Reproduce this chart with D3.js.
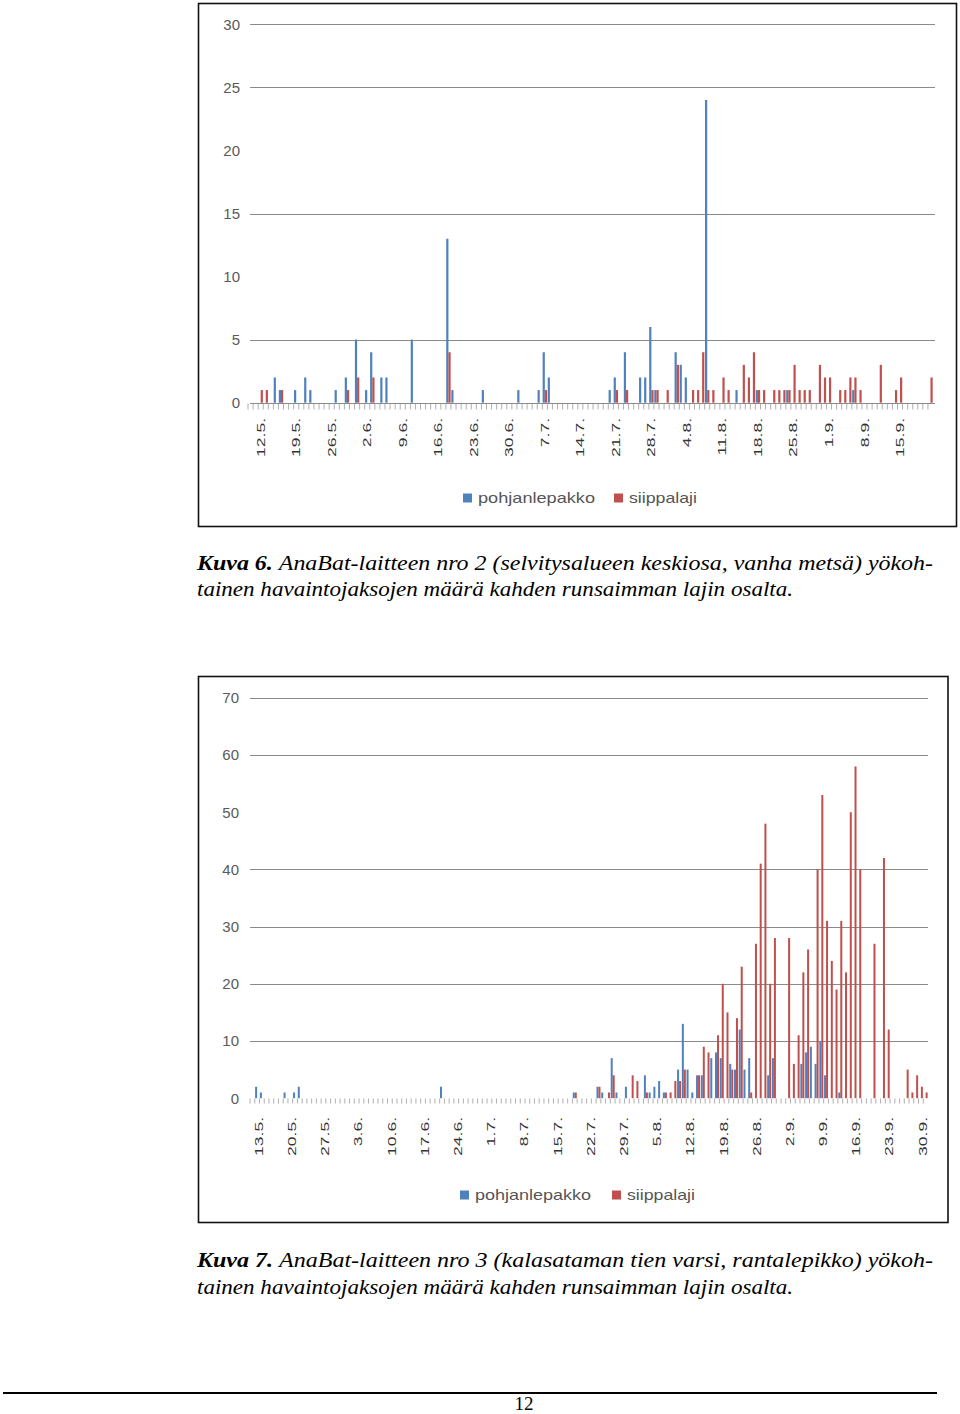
<!DOCTYPE html>
<html><head><meta charset="utf-8">
<script src="https://cdn.jsdelivr.net/npm/d3@7"></script>
<style>body{margin:0;background:#fff}svg{display:block}</style>
</head><body>
<svg id="page" width="960" height="1414"></svg>
<script>
// ---------- DATA ----------
const seriesNames = ["pohjanlepakko", "siippalaji"];

// Chart 1 (Kuva 6): nightly counts 10.5. – 21.9.
const chart1Start = "2010-05-10", chart1End = "2010-09-21";
const chart1Pohjanlepakko = [
  0,0,0,0,0,2,1,0,0,1,
  0,2,1,0,0,0,0,1,0,2,
  0,5,0,1,4,0,2,2,0,0,
  0,0,5,0,0,0,0,0,0,13,
  1,0,0,0,0,0,1,0,0,0,
  0,0,0,1,0,0,0,1,4,2,
  0,0,0,0,0,0,0,0,0,0,
  0,1,2,0,4,0,0,2,2,6,
  1,0,0,0,4,3,2,0,0,0,
  24,0,0,0,0,0,1,0,0,0,
  1,0,0,0,0,0,1,0,0,0,
  0,0,0,0,0,0,0,0,0,1,
  0,0,0,0,0,0,0,0,0,0,
  0,0,0,0,0
];
const chart1Siippalaji = [
  0,0,1,1,0,0,1,0,0,0,
  0,0,0,0,0,0,0,0,0,1,
  0,2,0,0,2,0,0,0,0,0,
  0,0,0,0,0,0,0,0,0,4,
  0,0,0,0,0,0,0,0,0,0,
  0,0,0,0,0,0,0,0,1,0,
  0,0,0,0,0,0,0,0,0,0,
  0,0,1,0,1,0,0,0,0,1,
  1,0,1,0,3,0,0,1,1,4,
  1,1,0,2,1,0,0,3,2,4,
  1,1,0,1,1,1,1,3,1,1,
  1,0,3,2,2,0,1,1,2,2,
  1,0,0,0,3,0,0,1,2,0,
  0,0,0,0,2
];
const chart1YTicks = [0, 5, 10, 15, 20, 25, 30];
const chart1GridLines = [5, 15, 25, 30];
const chart1XLabels = ["12.5.","19.5.","26.5.","2.6.","9.6.","16.6.","23.6.","30.6.","7.7.","14.7.",
  "21.7.","28.7.","4.8.","11.8.","18.8.","25.8.","1.9.","8.9.","15.9."];

// Chart 2 (Kuva 7): nightly counts 11.5. – 30.9.
const chart2Start = "2010-05-11", chart2End = "2010-09-30";
const chart2Pohjanlepakko = [
  0,2,1,0,0,0,0,1,0,1,
  2,0,0,0,0,0,0,0,0,0,
  0,0,0,0,0,0,0,0,0,0,
  0,0,0,0,0,0,0,0,0,0,
  2,0,0,0,0,0,0,0,0,0,
  0,0,0,0,0,0,0,0,0,0,
  0,0,0,0,0,0,0,0,1,0,
  0,0,0,2,1,0,7,1,0,2,
  0,0,0,4,1,2,3,1,0,0,
  5,13,5,1,4,4,0,7,8,7,
  0,6,5,12,5,7,0,0,0,4,
  7,0,0,0,0,0,6,8,9,6,
  10,4,0,0,1,0,0,0,0,0,
  0,0,0,0,0,0,0,0,0,0,
  0,0,0
];
const chart2Siippalaji = [
  0,0,0,0,0,0,0,0,0,0,
  0,0,0,0,0,0,0,0,0,0,
  0,0,0,0,0,0,0,0,0,0,
  0,0,0,0,0,0,0,0,0,0,
  0,0,0,0,0,0,0,0,0,0,
  0,0,0,0,0,0,0,0,0,0,
  0,0,0,0,0,0,0,0,1,0,
  0,0,0,2,0,1,4,0,0,0,
  4,3,0,1,0,0,0,1,1,3,
  3,5,0,0,4,9,8,0,11,20,
  15,5,14,23,0,1,27,41,48,20,
  28,0,0,28,6,11,22,26,0,40,
  53,31,24,19,31,22,50,58,40,0,
  0,27,0,42,12,0,0,0,5,1,
  4,2,1
];
const chart2YTicks = [0, 10, 20, 30, 40, 50, 60, 70];
const chart2GridLines = [10, 20, 30, 40, 60, 70];
const chart2XLabels = ["13.5.","20.5.","27.5.","3.6.","10.6.","17.6.","24.6.","1.7.","8.7.","15.7.",
  "22.7.","29.7.","5.8.","12.8.","19.8.","26.8.","2.9.","9.9.","16.9.","23.9.","30.9."];

const caption1 = ["AnaBat-laitteen nro 2 (selvitysalueen keskiosa, vanha metsä) yökoh-",
  "tainen havaintojaksojen määrä kahden runsaimman lajin osalta."];
const caption2 = ["AnaBat-laitteen nro 3 (kalasataman tien varsi, rantalepikko) yökoh-",
  "tainen havaintojaksojen määrä kahden runsaimman lajin osalta."];

// ---------- DRAWING ----------
const colors = ["#4F81BD", "#C0504D"];
const svg = d3.select("#page");
const parse = d3.timeParse("%Y-%m-%d");
const fmt = d3.timeFormat("%-d.%-m.");

function drawChart(cfg) {
  const days = d3.timeDay.range(parse(cfg.start), d3.timeDay.offset(parse(cfg.end), 1));
  const cats = days.map(fmt);
  const x = d3.scaleBand().domain(cats).range(cfg.xRange).padding(0);
  const y = d3.scaleLinear().domain([0, cfg.yMax]).range([cfg.y0, cfg.yTop]);
  const g = svg.append("g");

  g.append("rect").attr("x", cfg.frame[0]).attr("y", cfg.frame[1])
    .attr("width", cfg.frame[2]).attr("height", cfg.frame[3])
    .attr("fill", "#fff").attr("stroke", "#111").attr("stroke-width", 1.6);

  g.selectAll("line.grid").data(cfg.grid).join("line").attr("class", "grid")
    .attr("x1", cfg.gx[0]).attr("x2", cfg.gx[1])
    .attr("y1", d => Math.round(y(d)) + 0.5).attr("y2", d => Math.round(y(d)) + 0.5)
    .attr("stroke", "#8a8a8a").attr("stroke-width", 1.2);

  // y axis labels
  const ya = g.append("g").attr("transform", `translate(${cfg.gx[0]},0)`)
    .call(d3.axisLeft(y).tickValues(cfg.yTicks).tickSize(0).tickPadding(cfg.yPad));
  ya.select(".domain").remove();
  ya.selectAll("text").attr("font-family", "Liberation Sans, Arial, sans-serif")
    .attr("font-size", 15).attr("fill", "#5a5a5a");

  // daily tick marks
  const step = x.step();
  const tk = g.append("g").attr("transform", `translate(${-step / 2},${Math.round(cfg.y0) + 0.5})`)
    .call(d3.axisBottom(x).tickValues(cats).tickSize(cfg.tickLen).tickFormat(""));
  tk.select(".domain").remove();
  tk.selectAll("line").attr("stroke", "#9a9a9a").attr("stroke-width", 0.8);
  if (cfg.baseline) {
    g.append("line").attr("x1", cfg.gx[0]).attr("x2", cfg.gx[1])
      .attr("y1", Math.round(cfg.y0) + 0.5).attr("y2", Math.round(cfg.y0) + 0.5)
      .attr("stroke", "#8a8a8a").attr("stroke-width", 1.2);
  }

  // bars
  const bw = cfg.barW;
  [cfg.blue, cfg.red].forEach((vals, si) => {
    g.append("g").selectAll("rect").data(vals.map((v, i) => ({ v, c: cats[i] })).filter(d => d.v > 0))
      .join("rect")
      .attr("x", d => x(d.c) + step / 2 + (si === 0 ? -bw : 0))
      .attr("width", bw)
      .attr("y", d => y(d.v))
      .attr("height", d => y(0) - y(d.v))
      .attr("fill", colors[si]);
  });

  // x labels
  const xl = g.append("g").attr("transform", `translate(0,${cfg.labelTop})`)
    .call(d3.axisBottom(x).tickValues(cfg.labels).tickSize(0).tickPadding(0));
  xl.select(".domain").remove();
  xl.selectAll("text")
    .attr("font-family", "Liberation Sans, Arial, sans-serif").attr("font-size", 14)
    .attr("fill", "#333").attr("text-anchor", "end")
    .attr("x", 0).attr("y", 0).attr("dy", "0.35em")
    .attr("transform", `translate(${cfg.labelDx},0) rotate(-90) scale(1.25,0.82)`);

  // legend
  const lg = g.append("g");
  cfg.legend.forEach((L, i) => {
    lg.append("rect").attr("x", L.rx).attr("y", cfg.legendY - 4.5).attr("width", 9).attr("height", 9)
      .attr("fill", colors[i]);
    lg.append("text").attr("x", L.tx).attr("y", cfg.legendY).attr("dy", "0.35em")
      .attr("font-family", "Liberation Sans, Arial, sans-serif").attr("font-size", 15)
      .attr("fill", "#555").attr("textLength", L.len).attr("lengthAdjust", "spacingAndGlyphs")
      .text(seriesNames[i]);
  });
}

drawChart({
  start: chart1Start, end: chart1End, blue: chart1Pohjanlepakko, red: chart1Siippalaji,
  xRange: [248, 933], gx: [250, 935], yMax: 30, y0: 402.7, yTop: 24.3,
  grid: chart1GridLines, yTicks: chart1YTicks, yPad: 10, tickLen: 6, baseline: true,
  barW: 2.2, labels: chart1XLabels, labelTop: 418, labelDx: 0,
  frame: [198.5, 3.5, 758, 523], legendY: 498,
  legend: [{ rx: 463, tx: 478, len: 117 }, { rx: 614, tx: 629, len: 68 }]
});
drawChart({
  start: chart2Start, end: chart2End, blue: chart2Pohjanlepakko, red: chart2Siippalaji,
  xRange: [250, 928], gx: [250, 928], yMax: 70, y0: 1098.2, yTop: 697.8,
  grid: chart2GridLines, yTicks: chart2YTicks, yPad: 11, tickLen: 5, baseline: false,
  barW: 2.0, labels: chart2XLabels, labelTop: 1117, labelDx: -3,
  frame: [198.5, 676.5, 749.5, 546], legendY: 1195,
  legend: [{ rx: 460, tx: 475, len: 116 }, { rx: 612, tx: 627, len: 68 }]
});

// captions
function caption(label, lines, y1, y2) {
  const t1 = svg.append("text").attr("x", 197).attr("y", y1)
    .attr("font-family", "Liberation Serif, Times New Roman, serif").attr("font-size", 22)
    .attr("font-style", "italic").attr("fill", "#000")
    .attr("textLength", 736).attr("lengthAdjust", "spacingAndGlyphs");
  t1.append("tspan").attr("font-weight", "bold").text(label + " ");
  t1.append("tspan").text(lines[0]);
  svg.append("text").attr("x", 197).attr("y", y2)
    .attr("font-family", "Liberation Serif, Times New Roman, serif").attr("font-size", 22)
    .attr("font-style", "italic").attr("fill", "#000")
    .attr("textLength", 596).attr("lengthAdjust", "spacingAndGlyphs")
    .text(lines[1]);
}
caption("Kuva 6.", caption1, 570, 596);
caption("Kuva 7.", caption2, 1267, 1294);

svg.append("line").attr("x1", 3).attr("x2", 937).attr("y1", 1393).attr("y2", 1393)
  .attr("stroke", "#000").attr("stroke-width", 2);
svg.append("text").attr("x", 524).attr("y", 1410).attr("text-anchor", "middle")
  .attr("font-family", "Liberation Serif, Times New Roman, serif").attr("font-size", 19)
  .text("12");
</script>
</body></html>
